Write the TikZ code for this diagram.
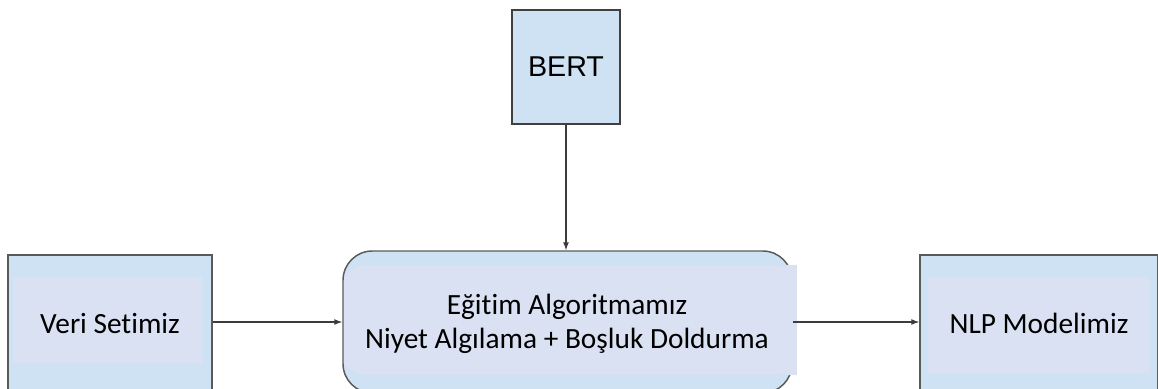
\documentclass[tikz,border=0pt]{standalone}
\usepackage{fontspec}
\setmainfont[Ligatures=NoCommon]{Carlito}
\newfontfamily\arialf{Liberation Sans}
\usetikzlibrary{arrows.meta}
\definecolor{outerc}{RGB}{207,226,243}
\definecolor{innerc}{RGB}{217,225,242}
\definecolor{borderc}{RGB}{90,90,90}
\definecolor{linec}{RGB}{60,60,60}
\tikzset{
  boxbase/.style={draw=borderc, line width=1.1pt, fill=outerc, inner sep=0pt, align=center, font=\fontsize{22}{25.5}\selectfont},
  conn/.style={draw=linec, line width=0.8pt, -{Latex[length=6pt,width=4.5pt]}},
  inset/.style n args={4}{path picture={\fill[innerc] ([shift={(#1,#2)}]path picture bounding box.north west) rectangle ([shift={(#3,#4)}]path picture bounding box.south east);}}
}
\begin{document}
\begin{tikzpicture}[x=0.75pt,y=-0.75pt]
\useasboundingbox (0,0) rectangle (1158,389);
% BERT
\node[boxbase, draw=black!75, minimum width=108*0.75pt, minimum height=114*0.75pt, font=\arialf\fontsize{21.5}{25}\selectfont] (bert) at (566,67) {BERT};
% Veri Setimiz
\node[boxbase, minimum width=204*0.75pt, minimum height=137*0.75pt,
  inset={5}{22}{-10}{-29}] (veri) at (110,323.5) {Veri Setimiz};
% Algorithm
\node[boxbase, rounded corners=22pt, minimum width=449*0.75pt, minimum height=142*0.75pt,
  inset={-5}{14}{10}{-18}] (alg) at (567.5,322) {};
\fill[innerc] (785,265) rectangle (797,375);
\node[inner sep=0pt, align=center, font=\fontsize{22}{25.5}\selectfont] (algtext) at (567,324) {Eğitim Algoritmamız\\Niyet Algılama + Boşluk Doldurma};
% NLP
\node[boxbase, minimum width=238*0.75pt, minimum height=137*0.75pt,
  inset={8}{22}{-9}{-19}] (nlp) at (1039,323.5) {NLP Modelimiz};
% connectors
\draw[conn] (bert.south) -- (alg.north -| bert.south);
\draw[conn] (veri.east |- 0,322) -- (alg.west |- 0,322);
\draw[conn] (alg.east |- 0,322) -- (nlp.west |- 0,322);
\end{tikzpicture}
\end{document}
